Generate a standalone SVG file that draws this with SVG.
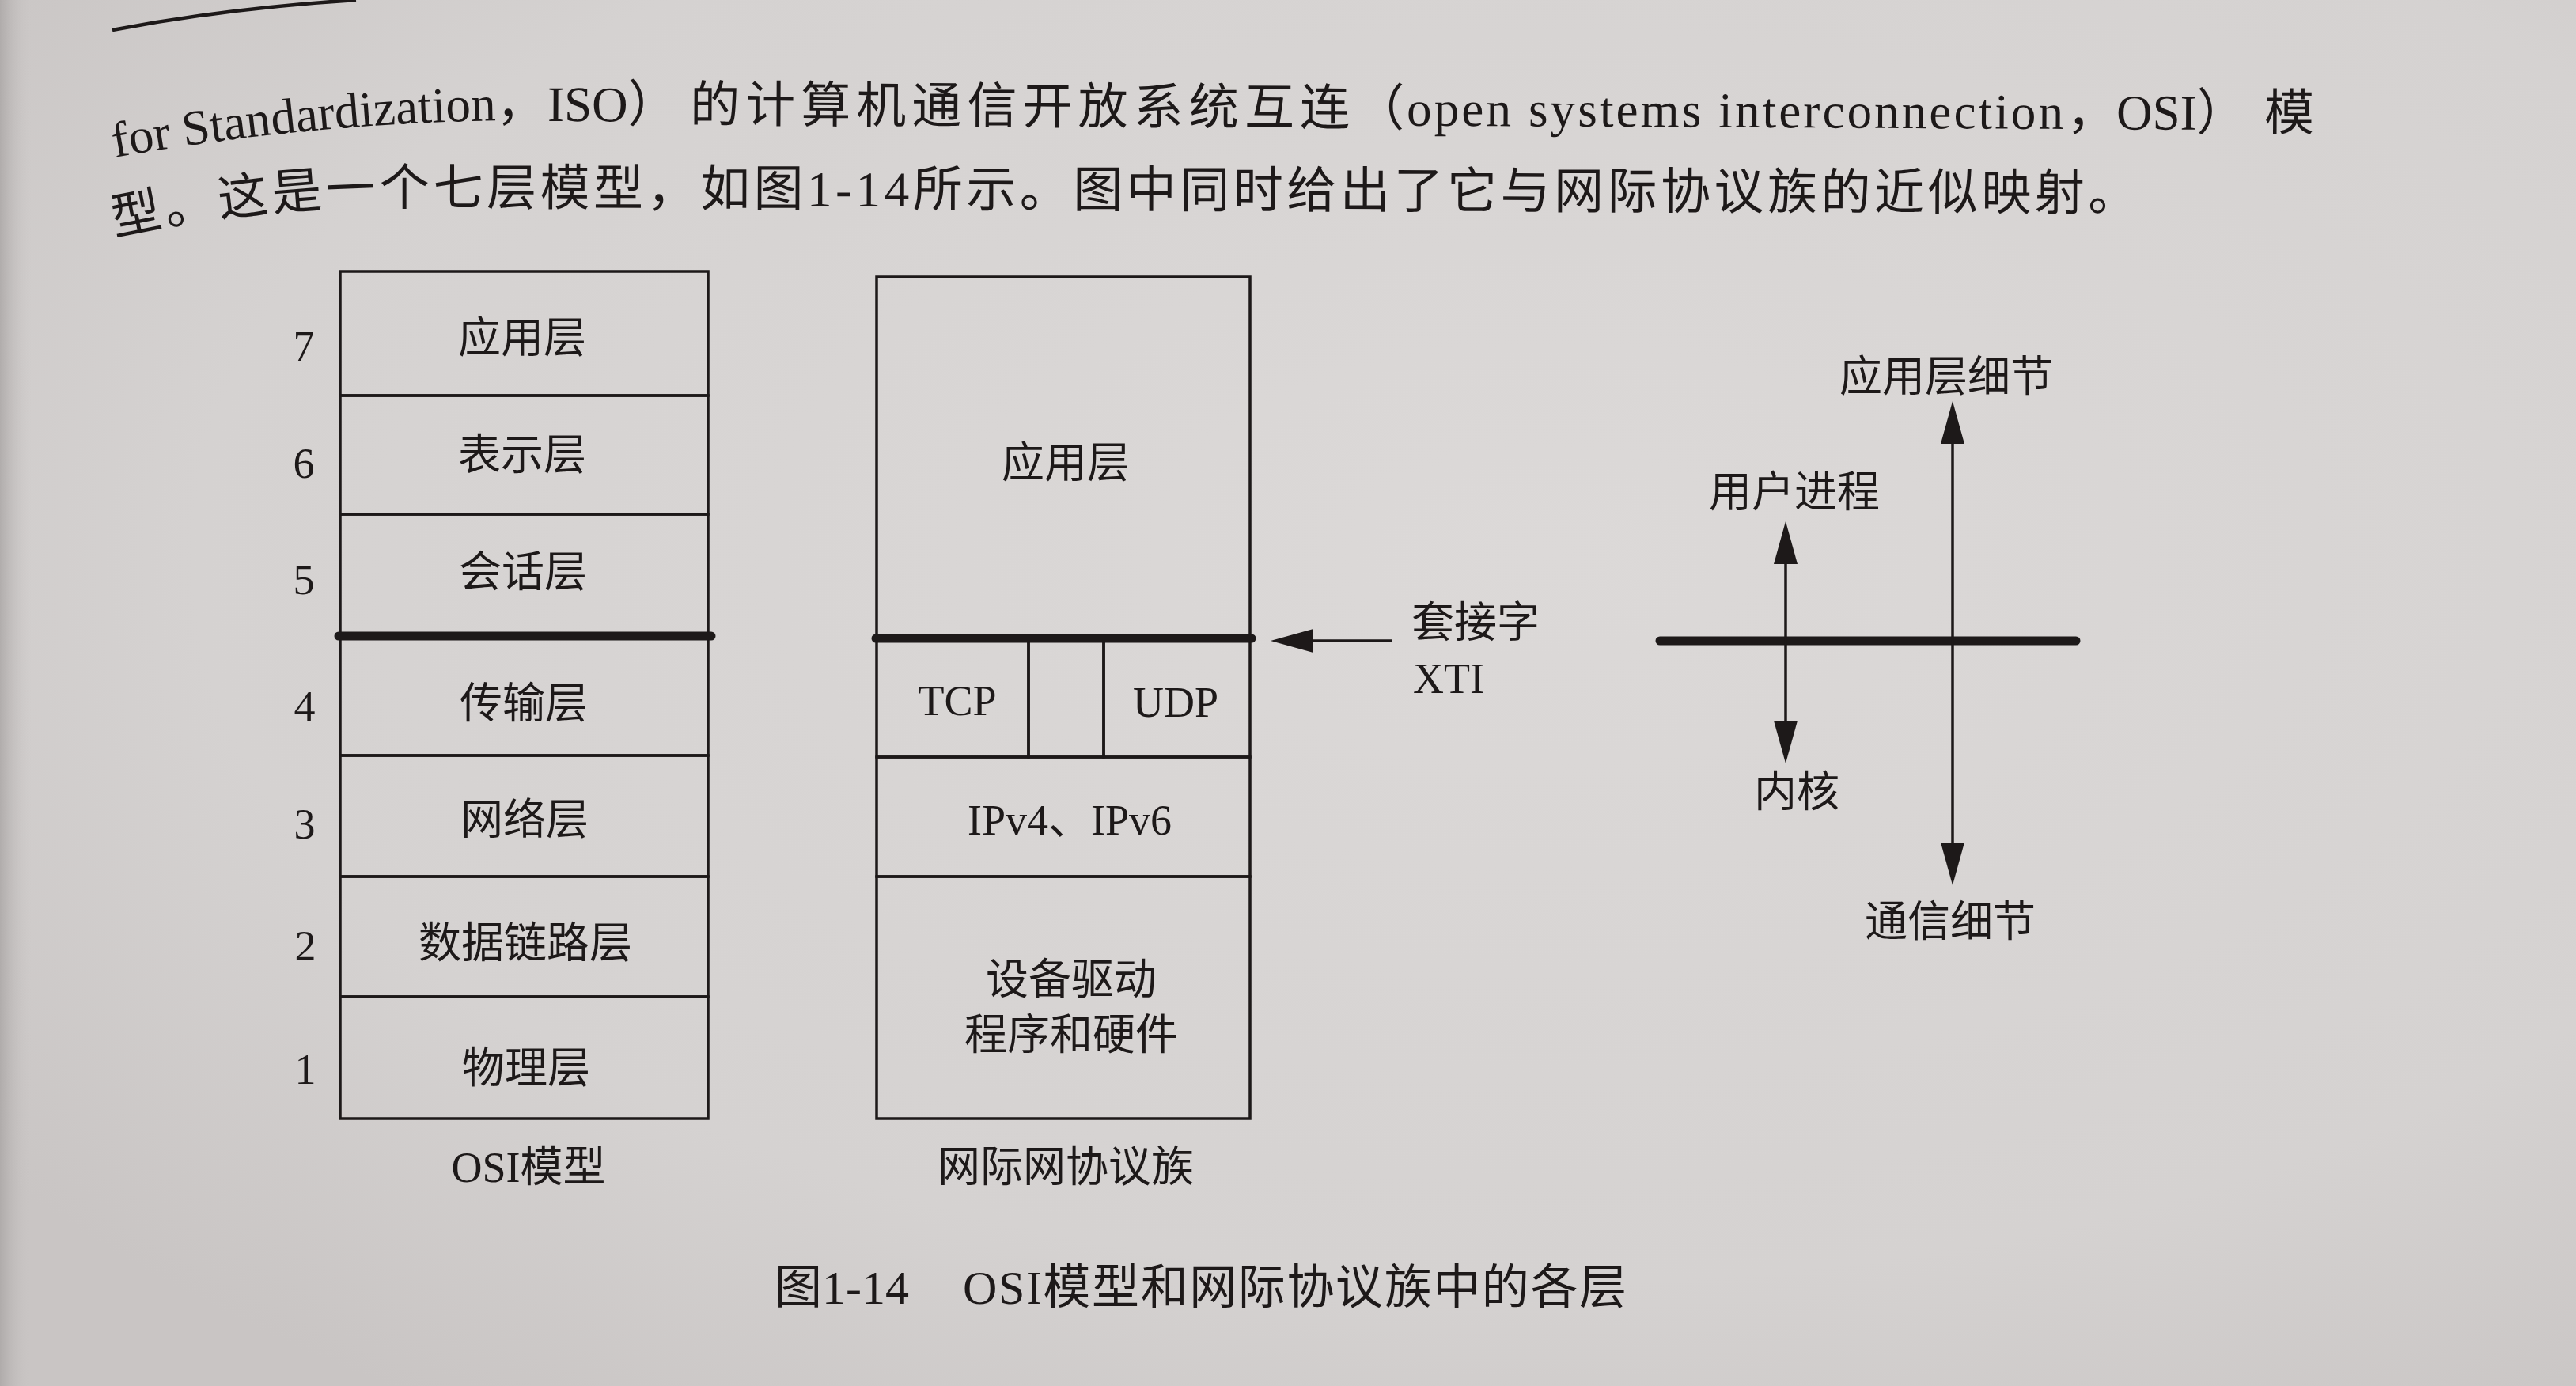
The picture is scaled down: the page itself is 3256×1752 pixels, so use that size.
<svg xmlns="http://www.w3.org/2000/svg" width="3256" height="1752" viewBox="0 0 3256 1752">
<defs>
<style>
.t{font-family:"Liberation Serif","Noto Sans CJK SC",serif;fill:#1d1919;}
.lbl{font-size:54px;text-anchor:middle;}
.num{font-size:54px;text-anchor:middle;}
.body{font-size:63px;}
.cap{font-size:60px;}
.box{fill:none;stroke:#1d1919;stroke-width:3.5;}
.thick{stroke:#1d1919;stroke-width:11;stroke-linecap:round;fill:none;}
.conn{stroke:#1d1919;stroke-width:3.5;fill:none;}
</style>
<marker id="ah" markerUnits="userSpaceOnUse" markerWidth="54" markerHeight="30" refX="44" refY="15" orient="auto-start-reverse">
<path d="M0,0 L54,15 L0,30 Z" fill="#1d1919"/>
</marker>
<radialGradient id="bg" cx="0.6" cy="0.4" r="0.75">
<stop offset="0" stop-color="#dcd9d8"/>
<stop offset="0.7" stop-color="#d5d2d1"/>
<stop offset="1" stop-color="#c9c5c4"/>
</radialGradient>
<linearGradient id="edge" x1="0" y1="0" x2="1" y2="0">
<stop offset="0" stop-color="#a9a5a4" stop-opacity="0.8"/>
<stop offset="1" stop-color="#c9c5c4" stop-opacity="0"/>
</linearGradient>
<path id="line1a" d="M145,199 Q420,150 700,152"/>
<path id="line2" d="M145,298 Q330,258 520,259 L2730,266"/>
</defs>
<rect width="3256" height="1752" fill="url(#bg)"/>
<rect width="40" height="1752" fill="url(#edge)"/>
<path d="M142,38 Q290,10 450,0" stroke="#1d1919" stroke-width="4.5" fill="none"/>

<g id="body-text">
<text class="t body"><textPath href="#line1a">for Standardization，</textPath></text>
<g transform="rotate(0.3 692 153)">
<text class="t body" x="692" y="153">ISO）</text>
<text class="t body" x="872" y="153" textLength="834" lengthAdjust="spacing">的计算机通信开放系统互连</text>
<text class="t body" x="1712" y="153" textLength="896" lengthAdjust="spacing">（open systems interconnection</text>
<text class="t body" x="2612" y="153">，OSI）</text>
<text class="t body" x="2862" y="153">模</text>
</g>
<text class="t body"><textPath href="#line2" textLength="2560" lengthAdjust="spacing">型。这是一个七层模型，如图1-14所示。图中同时给出了它与网际协议族的近似映射。</textPath></text>
</g>

<g id="osi-model">
<g id="osi-7"><rect class="box" x="430" y="343" width="465" height="157"/><text class="t lbl" x="660" y="446">应用层</text><text class="t num" x="384" y="456">7</text></g>
<g id="osi-6"><rect class="box" x="430" y="500" width="465" height="150"/><text class="t lbl" x="660" y="594">表示层</text><text class="t num" x="384" y="604">6</text></g>
<g id="osi-5"><rect class="box" x="430" y="650" width="465" height="154"/><text class="t lbl" x="661" y="742">会话层</text><text class="t num" x="384" y="751">5</text></g>
<g id="osi-4"><rect class="box" x="430" y="804" width="465" height="151"/><text class="t lbl" x="662" y="908">传输层</text><text class="t num" x="385" y="911">4</text></g>
<g id="osi-3"><rect class="box" x="430" y="955" width="465" height="153"/><text class="t lbl" x="663" y="1055">网络层</text><text class="t num" x="385" y="1060">3</text></g>
<g id="osi-2"><rect class="box" x="430" y="1108" width="465" height="152"/><text class="t lbl" x="664" y="1211">数据链路层</text><text class="t num" x="386" y="1214">2</text></g>
<g id="osi-1"><rect class="box" x="430" y="1260" width="465" height="154"/><text class="t lbl" x="665" y="1369">物理层</text><text class="t num" x="386" y="1370">1</text></g>
<line class="thick" x1="428" y1="804" x2="899" y2="804"/>
<text class="t lbl" x="668" y="1494">OSI模型</text>
</g>

<g id="internet-suite">
<g id="inet-app"><rect class="box" x="1108" y="350" width="472" height="457"/><text class="t lbl" x="1347" y="604">应用层</text></g>
<g id="inet-tcp"><rect class="box" x="1108" y="807" width="192" height="150"/><text class="t lbl" x="1210" y="904">TCP</text></g>
<g id="inet-mid"><rect class="box" x="1300" y="807" width="95" height="150"/></g>
<g id="inet-udp"><rect class="box" x="1395" y="807" width="185" height="150"/><text class="t lbl" x="1486" y="906">UDP</text></g>
<g id="inet-ip"><rect class="box" x="1108" y="957" width="472" height="151"/><text class="t lbl" x="1352" y="1055">IPv4、IPv6</text></g>
<g id="inet-dev"><rect class="box" x="1108" y="1108" width="472" height="306"/><text class="t lbl" x="1354" y="1257">设备驱动</text><text class="t lbl" x="1354" y="1327">程序和硬件</text></g>
<line class="thick" x1="1107" y1="807" x2="1582" y2="807"/>
<text class="t lbl" x="1347" y="1494">网际网协议族</text>
</g>

<g id="socket-label">
<text class="t" style="font-size:54px" x="1784" y="806">套接字</text>
<text class="t" style="font-size:54px" x="1786" y="876">XTI</text>
</g>

<g id="axis-labels">
<text class="t lbl" x="2460" y="495">应用层细节</text>
<text class="t lbl" x="2268" y="641">用户进程</text>
<text class="t lbl" x="2271" y="1020">内核</text>
<text class="t lbl" x="2465" y="1184">通信细节</text>
</g>

<g id="connectors">
<line class="conn" x1="1760" y1="810" x2="1616" y2="810" marker-end="url(#ah)"/>
<line class="thick" x1="2098" y1="810" x2="2624" y2="810"/>
<line class="conn" x1="2257" y1="669" x2="2257" y2="955" marker-start="url(#ah)" marker-end="url(#ah)"/>
<line class="conn" x1="2468" y1="517" x2="2468" y2="1109" marker-start="url(#ah)" marker-end="url(#ah)"/>
</g>

<g id="caption">
<text class="t cap" x="979" y="1648">图1-14<tspan x="1217" textLength="839" lengthAdjust="spacing">OSI模型和网际协议族中的各层</tspan></text>
</g>
</svg>
